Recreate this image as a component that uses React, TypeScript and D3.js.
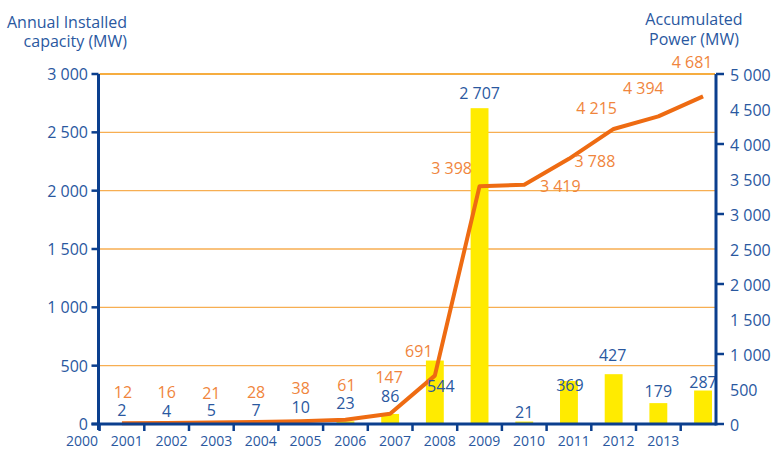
import React from "react";
import * as d3 from "d3";

// ---- data ----
const years = ["2000","2001","2002","2003","2004","2005","2006","2007","2008","2009","2010","2011","2012","2013"];
const annualInstalled = [2, 4, 5, 7, 10, 23, 86, 544, 2707, 21, 369, 427, 179, 287];
const accumulatedPower = [12, 16, 21, 28, 38, 61, 147, 691, 3398, 3419, 3788, 4215, 4394, 4681];
const leftTicks = [0, 500, 1000, 1500, 2000, 2500, 3000];
const rightTicks = [0, 500, 1000, 1500, 2000, 2500, 3000, 3500, 4000, 4500, 5000];

// ---- label layout (offsets in px relative to marks) ----
const barLabelDx = [0, 0, 0, 0, 0, 0, 0, 6, 0, 0, 1, -1, 0, 0];
const barLabelDy = [-14, -13, -13, -13, -16, -18, -18, 25, -15, -10, 4, -19, -12, -9];
const lineLabelDx = [1, 0, 0, 0, 0, 1, -1, -16, -28, 36, 26, -17, -15, -11];
const lineLabelDy = [-31, -31, -30, -30, -33, -35, -37, -25, -18, 1, 2, -21, -28, -34];

const W = 774, H = 449;
const FONT = "'Open Sans', 'DejaVu Sans', sans-serif";
const BLUE_TXT = "#2a589f";
const AXIS = "#0b3f8e";
const ORANGE_LINE = "#ee6b12";
const ORANGE_TXT = "#f0853c";
const GRID = "#f7ae52";
const YELLOW = "#ffeb00";

const fmt = d3.formatLocale({ thousands: " ", grouping: [3], decimal: ",", currency: ["", ""] }).format(",d");

export default function App() {
  const plotLeft = 98.5, plotRight = 716, plotTop = 74, plotBottom = 424;
  const x = d3.scaleBand<string>().domain(years).range([99.6, 725.4]).paddingInner(0.6).paddingOuter(0.3);
  const step = x.step();
  const bw = x.bandwidth();
  const cx = (i: number) => (x(years[i]) as number) + bw / 2;
  const yL = d3.scaleLinear().domain([0, 3000]).range([plotBottom, plotTop]);
  const yR = d3.scaleLinear().domain([0, 5000]).range([plotBottom, plotTop]);

  const line = d3.line<number>()
    .x((_, i) => cx(i))
    .y((d) => yR(d));

  const tickX = (i: number) => cx(i) - step / 2;

  return (
    <svg width={W} height={H} style={{ position: "absolute", left: 0, top: 0, background: "#fff" }} fontFamily={FONT}>
      {/* titles */}
      <text x={127} y={28} textAnchor="end" fontSize={16} fill={BLUE_TXT}>Annual Installed</text>
      <text x={127} y={47} textAnchor="end" fontSize={16} fill={BLUE_TXT}>capacity (MW)</text>
      <text x={694} y={25} textAnchor="middle" fontSize={16} fill={BLUE_TXT}>Accumulated</text>
      <text x={694} y={45} textAnchor="middle" fontSize={16} fill={BLUE_TXT}>Power (MW)</text>

      {/* gridlines */}
      {leftTicks.filter((t) => t > 0).map((t) => (
        <line key={"g" + t} x1={plotLeft + 1} x2={plotRight - 1} y1={yL(t)} y2={yL(t)}
          stroke={t === 3000 ? "#f39200" : GRID} strokeWidth={1.4} />
      ))}

      {/* bars */}
      {annualInstalled.map((v, i) => (
        <rect key={"b" + i} x={x(years[i])} y={yL(v)} width={bw} height={plotBottom - yL(v)} fill={YELLOW} />
      ))}

      {/* accumulated line */}
      <path d={line(accumulatedPower) || ""} fill="none" stroke={ORANGE_LINE} strokeWidth={4} strokeLinejoin="round" strokeLinecap="butt" />

      {/* bar labels */}
      {annualInstalled.map((v, i) => (
        <text key={"bl" + i} x={cx(i) + barLabelDx[i]} y={yL(v) + barLabelDy[i] + 6} textAnchor="middle"
          fontSize={16} fill={BLUE_TXT}>{fmt(v)}</text>
      ))}

      {/* line labels */}
      {accumulatedPower.map((v, i) => (
        <text key={"ll" + i} x={cx(i) + lineLabelDx[i]} y={yR(v) + lineLabelDy[i] + 6} textAnchor="middle"
          fontSize={16} fill={ORANGE_TXT}>{fmt(v)}</text>
      ))}

      {/* left axis */}
      <line x1={plotLeft} x2={plotLeft} y1={plotTop} y2={plotBottom + 6} stroke={AXIS} strokeWidth={3} />
      {leftTicks.map((t) => (
        <g key={"lt" + t}>
          <line x1={plotLeft - 7} x2={plotLeft} y1={yL(t)} y2={yL(t)} stroke={AXIS} strokeWidth={2.5} />
          <text x={88} y={yL(t) + 6} textAnchor="end" fontSize={16} fill={BLUE_TXT}>{fmt(t)}</text>
        </g>
      ))}

      {/* right axis */}
      <line x1={plotRight} x2={plotRight} y1={plotTop} y2={plotBottom + 1.5} stroke={AXIS} strokeWidth={3} />
      {rightTicks.map((t) => (
        <g key={"rt" + t}>
          {t % 1000 === 0 && (
            <line x1={plotRight} x2={plotRight + 8} y1={yR(t)} y2={yR(t)} stroke={AXIS} strokeWidth={2.5} />
          )}
          <text x={730} y={yR(t) + 7} textAnchor="start" fontSize={16} fill={BLUE_TXT}>{fmt(t)}</text>
        </g>
      ))}

      {/* x axis */}
      <line x1={plotLeft - 7} x2={plotRight} y1={plotBottom} y2={plotBottom} stroke={AXIS} strokeWidth={3} />
      {years.map((yr, i) => (
        <g key={"xt" + yr}>
          <line x1={tickX(i)} x2={tickX(i)} y1={plotBottom} y2={plotBottom + 7} stroke={AXIS} strokeWidth={2.5} />
          <text x={tickX(i) - 1.5} y={446} textAnchor="end" fontSize={14} fill={BLUE_TXT}>{yr}</text>
        </g>
      ))}
    </svg>
  );
}
